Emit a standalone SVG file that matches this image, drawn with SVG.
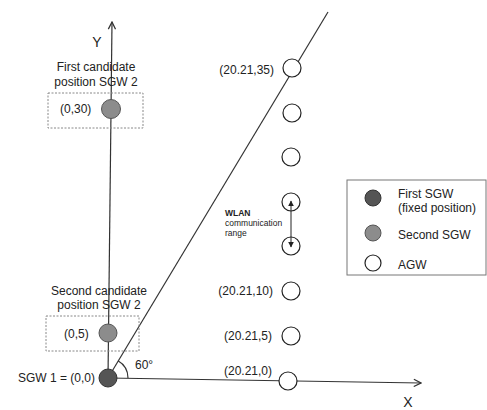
<svg xmlns="http://www.w3.org/2000/svg" width="487" height="410" viewBox="0 0 487 410">
<defs>
<style>
text{font-family:"Liberation Sans",Arial,sans-serif;fill:#222}
.t12{font-size:12px}
.ax{stroke:#333;stroke-width:1.2;fill:none}
.agw{fill:#fff;stroke:#222;stroke-width:1.2}
.sgw1{fill:#555;stroke:#333;stroke-width:1}
.sgw2{fill:#8c8c8c;stroke:#555;stroke-width:1}
.box{fill:none;stroke:#888;stroke-width:1;stroke-dasharray:2,1.5}
.small{font-size:8.5px}
</style>
<marker id="open" viewBox="0 0 10 10" refX="9" refY="5" markerWidth="9" markerHeight="9" orient="auto" markerUnits="userSpaceOnUse">
<path d="M1,1 L9,5 L1,9" fill="none" stroke="#333" stroke-width="1.4"/>
</marker>
<marker id="tri" viewBox="0 0 10 10" refX="9" refY="5" markerWidth="6" markerHeight="6" orient="auto-start-reverse" markerUnits="userSpaceOnUse">
<path d="M0,0 L10,5 L0,10 Z" fill="#222"/>
</marker>
</defs>
<rect width="487" height="410" fill="#fff"/>

<g id="connectors">
<line class="ax" x1="108" y1="378" x2="112" y2="22" marker-end="url(#open)"/>
<line class="ax" x1="108" y1="378" x2="421" y2="383" marker-end="url(#open)"/>
<line class="ax" x1="108" y1="378" x2="328" y2="12"/>
<path class="ax" d="M128,378 A20,20 0 0 0 118,360.7"/>
</g>

<g id="axis-labels">
<text x="97" y="47" font-size="14" text-anchor="middle">Y</text>
<text x="408" y="407" font-size="14" text-anchor="middle">X</text>
<text x="135" y="369" class="t12">60°</text>
</g>

<g id="first-candidate">
<rect class="box" x="48" y="93" width="95" height="35"/>
<text x="96" y="71" class="t12" text-anchor="middle">First candidate</text>
<text x="96" y="86" class="t12" text-anchor="middle">position SGW 2</text>
<text x="60" y="113" class="t12">(0,30)</text>
<circle class="sgw2" cx="111" cy="109" r="9.5"/>
</g>

<g id="second-candidate">
<rect class="box" x="46" y="316" width="93" height="35"/>
<text x="99" y="295" class="t12" text-anchor="middle">Second candidate</text>
<text x="99" y="309" class="t12" text-anchor="middle">position SGW 2</text>
<text x="64" y="338" class="t12">(0,5)</text>
<circle class="sgw2" cx="108" cy="333" r="9"/>
</g>

<g id="sgw1">
<text x="95" y="382" class="t12" text-anchor="end">SGW 1 = (0,0)</text>
<circle class="sgw1" cx="108" cy="378" r="9"/>
</g>

<g id="agw35">
<circle class="agw" cx="292" cy="68" r="9"/>
<text x="274" y="74" class="t12" text-anchor="end">(20.21,35)</text>
</g>
<g id="agw30"><circle class="agw" cx="292" cy="113" r="9"/></g>
<g id="agw25"><circle class="agw" cx="291" cy="157" r="9"/></g>
<g id="agw20"><circle class="agw" cx="291" cy="202" r="9"/></g>
<g id="agw15"><circle class="agw" cx="291" cy="246" r="9"/></g>
<g id="wlan-label">
<text x="225" y="216" class="small" font-weight="bold">WLAN</text>
<text x="225" y="226" class="small">communication</text>
<text x="225" y="236" class="small">range</text>
</g>
<g id="agw10">
<circle class="agw" cx="291" cy="291" r="9"/>
<text x="273" y="295" class="t12" text-anchor="end">(20.21,10)</text>
</g>
<g id="agw5">
<circle class="agw" cx="291" cy="336" r="9"/>
<text x="272" y="340" class="t12" text-anchor="end">(20.21,5)</text>
</g>
<g id="agw0">
<circle class="agw" cx="288" cy="381" r="9"/>
<text x="272" y="375" class="t12" text-anchor="end">(20.21,0)</text>
</g>

<g id="wlan-range">
<line x1="291" y1="201" x2="291" y2="247" stroke="#222" stroke-width="1" marker-start="url(#tri)" marker-end="url(#tri)"/>
</g>

<g id="legend">
<rect x="347" y="180" width="139" height="95" fill="none" stroke="#777" stroke-width="1"/>
<circle class="sgw1" cx="373" cy="198" r="8"/>
<text x="398" y="198" class="t12">First SGW</text>
<text x="398" y="212" class="t12">(fixed position)</text>
<circle class="sgw2" cx="373" cy="233" r="8"/>
<text x="398" y="239" class="t12">Second SGW</text>
<circle class="agw" cx="373" cy="263" r="8"/>
<text x="398" y="269" class="t12">AGW</text>
</g>
</svg>
